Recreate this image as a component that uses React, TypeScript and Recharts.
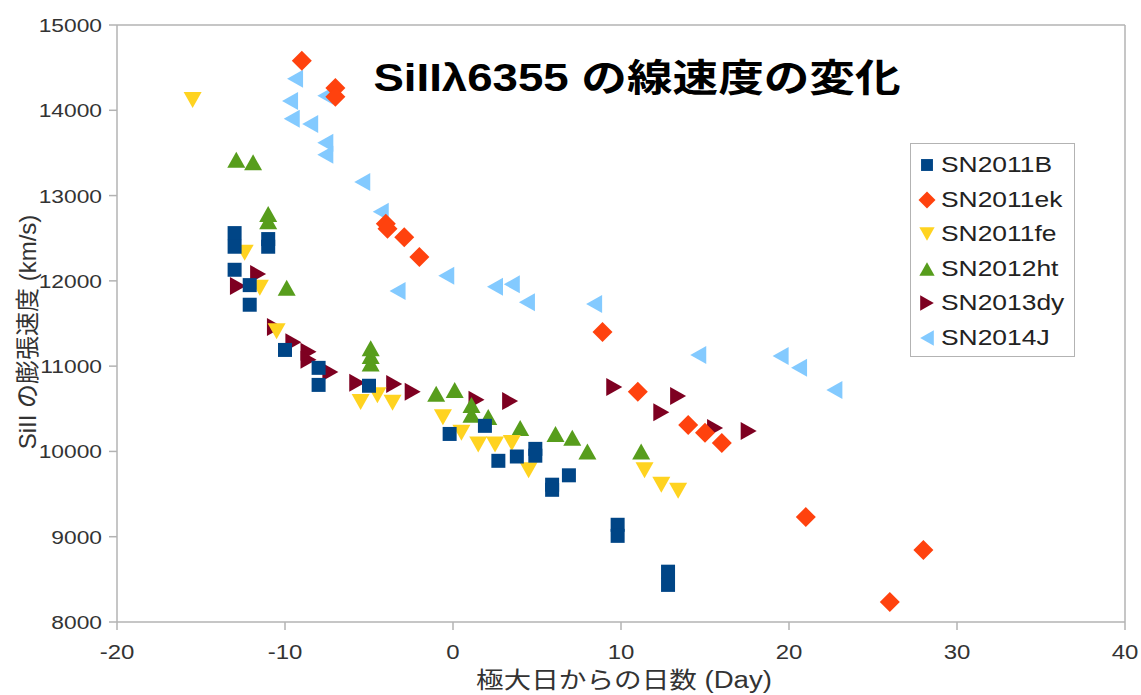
import { ReferenceLine, Scatter, ScatterChart, XAxis, YAxis } from "recharts";

const FONT = '"Liberation Sans", "Noto Sans CJK JP", sans-serif';
const AXIS = "#b3b3b3";
const TEXT = "#333333";
// glyphs in this chart run wide, so text is stretched horizontally
const SX = 1.2;

const X_TICKS = [-20, -10, 0, 10, 20, 30, 40];
const Y_TICKS = [8000, 9000, 10000, 11000, 12000, 13000, 14000, 15000];

// [days from maximum, Si II velocity km/s]
const SN2011B: [number, number][] = [
  [-13.0, 12560], [-13.0, 12400], [-13.0, 12130], [-11.0, 12490], [-11.0, 12400],
  [-12.1, 11950], [-12.1, 11720], [-10.0, 11190], [-8.0, 10980], [-8.0, 10780],
  [-5.0, 10770], [-0.2, 10205], [1.9, 10300], [2.7, 9890], [3.8, 9940],
  [4.9, 10030], [4.9, 9950], [5.9, 9610], [5.9, 9550], [6.9, 9720],
  [9.8, 9140], [9.8, 9010], [12.8, 8590], [12.8, 8435],
];
const SN2011EK: [number, number][] = [
  [-9.0, 14580], [-7.0, 14260], [-7.0, 14160], [-4.0, 12670], [-3.9, 12610],
  [-2.9, 12510], [-2.0, 12280], [8.9, 11400], [11.0, 10700], [14.0, 10310],
  [15.0, 10220], [16.0, 10100], [21.0, 9230], [28.0, 8845], [26.0, 8235],
];
const SN2011FE: [number, number][] = [
  [-15.5, 14120], [-12.4, 12330], [-11.5, 11920], [-10.5, 11410], [-5.5, 10580],
  [-4.5, 10660], [-3.6, 10570], [-0.6, 10400], [0.5, 10220], [1.5, 10080],
  [2.5, 10080], [3.5, 10100], [4.5, 9780], [11.4, 9780], [12.4, 9610], [13.4, 9540],
];
const SN2012HT: [number, number][] = [
  [-12.9, 13420], [-11.9, 13390], [-11.0, 12785], [-11.0, 12700], [-9.9, 11920],
  [-4.9, 11210], [-4.9, 11120], [-4.9, 11030], [-1.0, 10675], [0.1, 10720],
  [1.1, 10545], [1.1, 10430], [2.1, 10405], [4.0, 10275], [6.1, 10205],
  [7.1, 10160], [8.0, 10000], [11.2, 10000],
];
const SN2013DY: [number, number][] = [
  [-11.6, 12080], [-12.8, 11940], [-10.6, 11460], [-9.5, 11280], [-8.6, 11170],
  [-8.6, 11075], [-7.3, 10930], [-5.7, 10805], [-3.5, 10790], [-2.4, 10700],
  [1.4, 10605], [3.4, 10590], [9.6, 10755], [13.4, 10650], [12.4, 10460],
  [15.6, 10275], [17.6, 10240],
];
const SN2014J: [number, number][] = [
  [-9.4, 14370], [-9.7, 14110], [-7.6, 14170], [-9.6, 13900], [-8.5, 13840],
  [-7.6, 13620], [-7.6, 13480], [-5.4, 13160], [-4.3, 12810], [-3.3, 11880],
  [-0.4, 12060], [2.5, 11930], [3.5, 11960], [4.4, 11750], [8.4, 11730],
  [14.6, 11130], [19.5, 11120], [20.6, 10980], [22.7, 10720],
];

type Kind = "square" | "diamond" | "down" | "up" | "right" | "left";

const SERIES: { name: string; points: [number, number][]; color: string; kind: Kind }[] = [
  { name: "SN2011B", points: SN2011B, color: "#004586", kind: "square" },
  { name: "SN2011ek", points: SN2011EK, color: "#ff420e", kind: "diamond" },
  { name: "SN2011fe", points: SN2011FE, color: "#ffd320", kind: "down" },
  { name: "SN2012ht", points: SN2012HT, color: "#579d1c", kind: "up" },
  { name: "SN2013dy", points: SN2013DY, color: "#7e0021", kind: "right" },
  { name: "SN2014J", points: SN2014J, color: "#83caff", kind: "left" },
];

function markerPath(kind: Kind, cx: number, cy: number, s = 1) {
  const q = 7 * s;
  const d = 10 * s;
  const a = 9 * s;
  const b = 8 * s;
  switch (kind) {
    case "square":
      return `M${cx - q},${cy - q}h${2 * q}v${2 * q}h${-2 * q}Z`;
    case "diamond":
      return `M${cx},${cy - d}L${cx + d},${cy}L${cx},${cy + d}L${cx - d},${cy}Z`;
    case "down":
      return `M${cx - a},${cy - b}L${cx + a},${cy - b}L${cx},${cy + b}Z`;
    case "up":
      return `M${cx - a},${cy + b}L${cx + a},${cy + b}L${cx},${cy - b}Z`;
    case "right":
      return `M${cx - b},${cy - a}L${cx - b},${cy + a}L${cx + b},${cy}Z`;
    default:
      return `M${cx + b},${cy - a}L${cx + b},${cy + a}L${cx - b},${cy}Z`;
  }
}

const shapeFor = (kind: Kind, color: string) => (props: any) =>
  <path d={markerPath(kind, props.cx, props.cy)} fill={color} />;

const XTick = (props: any) => (
  <text
    transform={`translate(${props.x},${props.y + 29}) scale(${SX},1)`}
    textAnchor="middle"
    fontFamily={FONT}
    fontSize={20}
    fill={TEXT}
  >
    {props.payload.value}
  </text>
);

const YTick = (props: any) => (
  <text
    transform={`translate(${props.x - 7},${props.y + 7}) scale(${SX},1)`}
    textAnchor="end"
    fontFamily={FONT}
    fontSize={19}
    fill={TEXT}
  >
    {props.payload.value}
  </text>
);

function LegendBox() {
  return (
    <div
      style={{
        position: "absolute",
        left: 910,
        top: 143,
        width: 163,
        height: 208,
        border: `1px solid ${AXIS}`,
        background: "#fff",
        paddingTop: 4,
      }}
    >
      {SERIES.map((s) => (
        <div key={s.name} style={{ height: 34.5, position: "relative" }}>
          <svg width={24} height={34} style={{ position: "absolute", left: 4, top: 0 }}>
            <path d={markerPath(s.kind, 12, 17, 0.85)} fill={s.color} />
          </svg>
          <span
            style={{
              position: "absolute",
              left: 30,
              top: 4,
              fontFamily: FONT,
              fontSize: 22,
              color: "#222",
              whiteSpace: "nowrap",
              transform: `scaleX(${SX})`,
              transformOrigin: "left center",
            }}
          >
            {s.name}
          </span>
        </div>
      ))}
    </div>
  );
}

export default function App() {
  return (
    <div
      style={{
        position: "absolute",
        left: 0,
        top: 0,
        width: 1141,
        height: 695,
        background: "#fff",
        fontFamily: FONT,
      }}
    >
      <ScatterChart width={1141} height={695} margin={{ top: 25, right: 16, bottom: 0, left: 0 }}>
        <XAxis
          type="number"
          dataKey="x"
          domain={[-20, 40]}
          ticks={X_TICKS}
          allowDataOverflow
          height={73}
          tickSize={8}
          tickMargin={0}
          axisLine={{ stroke: AXIS, strokeWidth: 1.5 }}
          tickLine={{ stroke: AXIS, strokeWidth: 1.5 }}
          tick={<XTick />}
        />
        <YAxis
          type="number"
          dataKey="y"
          domain={[8000, 15000]}
          ticks={Y_TICKS}
          allowDataOverflow
          width={117}
          tickSize={8}
          tickMargin={0}
          axisLine={{ stroke: AXIS, strokeWidth: 1.5 }}
          tickLine={{ stroke: AXIS, strokeWidth: 1.5 }}
          tick={<YTick />}
        />
        <ReferenceLine y={15000} stroke={AXIS} strokeWidth={1.5} />
        <ReferenceLine x={40} stroke={AXIS} strokeWidth={1.5} />
        {/* later series go underneath, SN2011B ends up on top */}
        {[...SERIES].reverse().map((s) => (
          <Scatter
            key={s.name}
            name={s.name}
            data={s.points.map(([x, y]) => ({ x, y }))}
            fill={s.color}
            shape={shapeFor(s.kind, s.color)}
            isAnimationActive={false}
          />
        ))}
      </ScatterChart>

      <LegendBox />

      <div
        style={{
          position: "absolute",
          left: 637,
          top: 54,
          transform: `translateX(-50%) scaleX(${SX})`,
          fontSize: 38,
          fontWeight: "bold",
          color: "#000",
          whiteSpace: "nowrap",
          lineHeight: "48px",
        }}
      >
        SiIIλ6355 の線速度の変化
      </div>

      <div
        style={{
          position: "absolute",
          left: 624,
          top: 666,
          transform: `translateX(-50%) scaleX(${SX})`,
          fontSize: 23,
          color: TEXT,
          whiteSpace: "nowrap",
          lineHeight: "28px",
        }}
      >
        極大日からの日数 (Day)
      </div>

      <div
        style={{
          position: "absolute",
          left: 28,
          top: 332,
          transform: "translate(-50%, -50%) rotate(-90deg)",
          fontSize: 24,
          color: TEXT,
          whiteSpace: "nowrap",
          lineHeight: "26px",
        }}
      >
        SiII の膨張速度 (km/s)
      </div>
    </div>
  );
}
